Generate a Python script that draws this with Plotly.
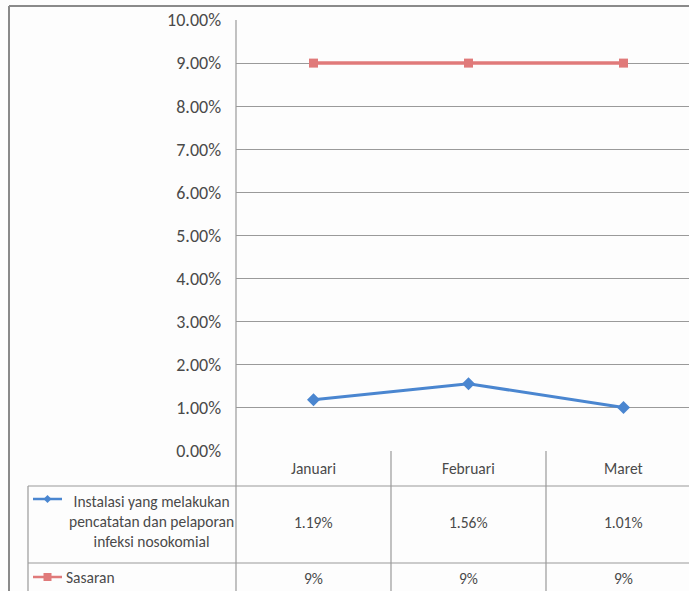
import plotly.graph_objects as go

categories = ["Januari", "Februari", "Maret"]
instalasi = [1.19, 1.56, 1.01]
sasaran = [9, 9, 9]
instalasi_labels = ["1.19%", "1.56%", "1.01%"]
sasaran_labels = ["9%", "9%", "9%"]
series_names = ["Instalasi yang melakukan<br>pencatatan dan pelaporan<br>infeksi nosokomial", "Sasaran"]

W, H = 689, 591
FONT = "Carlito, Lato, 'Liberation Sans', sans-serif"
TXT = "#4a4a4a"
GRID = "#9a9a9a"
BLUE = "#4a86d0"
RED = "#e07a7a"

def px(x):
    return x / W

def py(y):
    return 1 - y / H

xs = list(range(len(categories)))
x_left_px, x_right_px = 236, 689
cat_w = 155
x0 = -0.5
x1 = x0 + (x_right_px - x_left_px) / cat_w

fig = go.Figure()
fig.add_trace(go.Scatter(x=xs, y=instalasi, mode="lines+markers",
                         line=dict(color=BLUE, width=3),
                         marker=dict(symbol="diamond", size=10, color=BLUE),
                         showlegend=False))
fig.add_trace(go.Scatter(x=xs, y=sasaran, mode="lines+markers",
                         line=dict(color=RED, width=3.5),
                         marker=dict(symbol="square", size=9, color=RED),
                         showlegend=False))

shapes = []
# outer frame
shapes.append(dict(type="line", xref="paper", yref="paper", x0=px(9), x1=1, y0=py(6), y1=py(6),
                   line=dict(color="#8a8a8a", width=2)))
shapes.append(dict(type="line", xref="paper", yref="paper", x0=px(9), x1=px(9), y0=py(6), y1=0,
                   line=dict(color="#8a8a8a", width=2)))
# y axis line extended through table
shapes.append(dict(type="line", xref="paper", yref="paper", x0=px(236), x1=px(236), y0=py(20), y1=0,
                   line=dict(color=GRID, width=1.2)))
# table horizontal lines
for yy in (486, 563):
    shapes.append(dict(type="line", xref="paper", yref="paper", x0=px(28), x1=1, y0=py(yy), y1=py(yy),
                       line=dict(color=GRID, width=1.2)))
# table left border
shapes.append(dict(type="line", xref="paper", yref="paper", x0=px(28), x1=px(28), y0=py(486), y1=0,
                   line=dict(color=GRID, width=1.2)))
# category dividers
for xv in (0.5, 1.5):
    shapes.append(dict(type="line", xref="x", yref="paper", x0=xv, x1=xv, y0=py(451), y1=0,
                       line=dict(color=GRID, width=1.2)))
# legend keys
for yk, col, sym in ((499, BLUE, "d"), (577, RED, "s")):
    shapes.append(dict(type="line", xref="paper", yref="paper", x0=px(33), x1=px(62), y0=py(yk), y1=py(yk),
                       line=dict(color=col, width=2.5)))
    cx, cy = 47.5, yk
    if sym == "d":
        path = f"M {px(cx-4)},{py(cy)} L {px(cx)},{py(cy-4)} L {px(cx+4)},{py(cy)} L {px(cx)},{py(cy+4)} Z"
    else:
        path = f"M {px(cx-4)},{py(cy-4)} L {px(cx+4)},{py(cy-4)} L {px(cx+4)},{py(cy+4)} L {px(cx-4)},{py(cy+4)} Z"
    shapes.append(dict(type="path", xref="paper", yref="paper", path=path, fillcolor=col,
                       line=dict(color=col, width=0)))

TS = 15.5
annotations = []
for i, c in enumerate(categories):
    annotations.append(dict(x=i, y=py(468), xref="x", yref="paper", text=c, showarrow=False,
                            xanchor="center", yanchor="middle",
                            font=dict(size=TS, color=TXT, family=FONT)))
    annotations.append(dict(x=i, y=py(522), xref="x", yref="paper", text=instalasi_labels[i], showarrow=False,
                            xanchor="center", yanchor="middle",
                            font=dict(size=TS, color=TXT, family=FONT)))
    annotations.append(dict(x=i, y=py(578), xref="x", yref="paper", text=sasaran_labels[i], showarrow=False,
                            xanchor="center", yanchor="middle",
                            font=dict(size=TS, color=TXT, family=FONT)))
annotations.append(dict(x=px(151), y=py(521), xref="paper", yref="paper", text=series_names[0],
                        showarrow=False, align="center", xanchor="center", yanchor="middle",
                        font=dict(size=TS, color=TXT, family=FONT)))
annotations.append(dict(x=px(64), y=py(577), xref="paper", yref="paper", text=series_names[1],
                        showarrow=False, xanchor="left", yanchor="middle",
                        font=dict(size=TS, color=TXT, family=FONT)))

fig.update_layout(
    width=W, height=H,
    margin=dict(l=0, r=0, t=0, b=0, pad=0, autoexpand=False),
    paper_bgcolor="#fdfdfd", plot_bgcolor="#fdfdfd",
    xaxis=dict(domain=[px(236), 1], range=[x0, x1], showticklabels=False, showgrid=False,
               zeroline=False, showline=False, ticks="", automargin=False),
    yaxis=dict(domain=[py(451), py(20)], range=[0, 10], dtick=1, tickformat=".2f", ticksuffix="%",
               showgrid=True, gridcolor=GRID, gridwidth=1.2, zeroline=False, showline=False,
               ticks="", ticklabelstandoff=14, automargin=False,
               tickfont=dict(size=18, color=TXT, family=FONT)),
    shapes=shapes,
    annotations=annotations,
)

fig.write_html("out.html",
               post_script="document.body.style.margin='0';document.body.style.overflow='hidden';")
